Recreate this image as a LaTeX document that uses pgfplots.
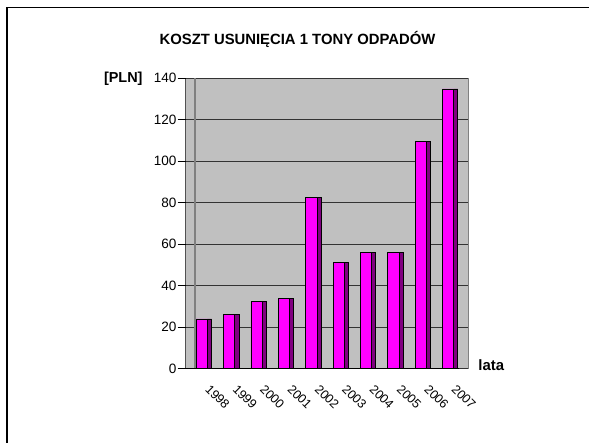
\documentclass[border=0pt]{standalone}
\usepackage{pgfplots}
\pgfplotsset{compat=1.18}
\usepackage{fontspec}
\setmainfont{Liberation Sans}
\definecolor{silverbg}{HTML}{C0C0C0}
\definecolor{barfront}{HTML}{FF00FF}
\definecolor{barside}{HTML}{800080}
\definecolor{wallgray}{HTML}{808080}
\begin{document}
\begin{tikzpicture}
\useasboundingbox (0,0) rectangle (589bp,443bp);
\draw[line width=1.3bp] (6.9bp,-10bp) |- (600bp,435.6bp);
\node[font=\bfseries\fontsize{14.9}{17}\selectfont] at (297.5bp,403.5bp) {KOSZT USUNIĘCIA 1 TONY ODPADÓW};
\node[font=\bfseries\fontsize{14.5}{17}\selectfont] at (123.3bp,364bp) {[PLN]};
\node[font=\bfseries\fontsize{15}{17}\selectfont] at (491.3bp,77.5bp) {lata};
\begin{axis}[
  at={(185.7bp,74.3bp)}, anchor=south west,
  scale only axis, width=282.3bp, height=290.5bp,
  xmin=-0.5, xmax=9.818, ymin=0, ymax=140,
  axis background/.style={fill=silverbg, draw=wallgray, line width=0.8bp},
  axis line style={draw=none},
  ytick={0,20,...,140},
  ymajorgrids, major grid style={black!80, line width=1bp},
  xtick={0,...,9},
  xticklabels={1998,1999,2000,2001,2002,2003,2004,2005,2006,2007},
  x tick style={draw=none},
  minor xtick={-0.5,0.5,...,9.5},
  minor x tick style={black, line width=0.8bp},
  y tick style={black, line width=0.8bp},
  tick align=outside,
  major tick length=8bp, minor tick length=4.5bp,
  xtick pos=bottom, ytick pos=left,
  /pgf/number format/assume math mode=true,
  yticklabel style={font=\fontsize{13.6}{15}\selectfont, inner sep=1bp},
  xticklabel style={font=\fontsize{12.6}{14}\selectfont, xshift=11.5bp, yshift=-5.5bp, rotate=-45, anchor=north west, inner sep=1bp},
]
\draw[wallgray, line width=1.3bp] (axis cs:-0.16,0) -- (axis cs:-0.16,140);
\addplot[ybar, bar width=0.15, bar shift=0.37, fill=barside, draw=black, line width=0.7bp]
  coordinates {(0,24) (1,26) (2,32.3) (3,33.7) (4,82.7) (5,51.3) (6,56.2) (7,56.2) (8,109.7) (9,134.8)};
\addplot[ybar, bar width=0.41, bar shift=0.09, fill=barfront, draw=black, line width=0.7bp]
  coordinates {(0,24) (1,26) (2,32.3) (3,33.7) (4,82.7) (5,51.3) (6,56.2) (7,56.2) (8,109.7) (9,134.8)};
\draw[black, line width=1bp] (axis cs:-0.5,0) -- (axis cs:-0.5,140);
\draw[black, line width=1bp] (axis cs:-0.5,0) -- (axis cs:9.5,0);
\end{axis}
\end{tikzpicture}
\end{document}
